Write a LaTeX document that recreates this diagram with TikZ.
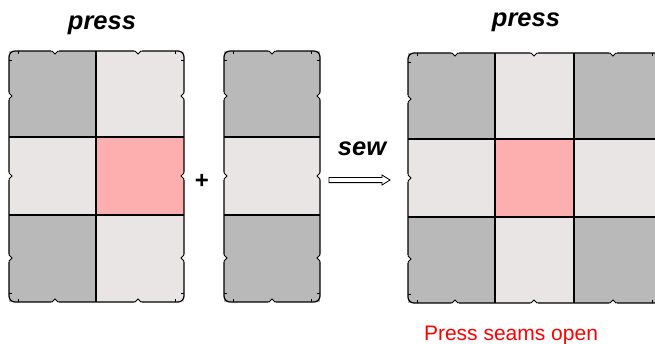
\documentclass[tikz,border=0pt]{standalone}
\usepackage{fontspec}
\setmainfont{Liberation Sans}
\definecolor{darkcell}{HTML}{B9B9B9}
\definecolor{lightcell}{HTML}{E9E5E5}
\definecolor{pinkcell}{HTML}{FDAFAF}
\definecolor{notered}{HTML}{FF0000}
\tikzset{
  seam/.style={line width=1.2pt, black},
  edge/.style={line width=1.2pt, black},
  title/.style={font=\fontsize{25.5}{30}\selectfont\bfseries\itshape, inner sep=0pt, anchor=base},
}
% cell: x0 y0 x1 y1 colour
\newcommand\cellbox[5]{\fill[#5] (#1,#2) rectangle (#3,#4);}
% notch on horizontal edge: x, y, dir (+1 inward downwards, -1 inward upwards)
\newcommand\hnotch[3]{%
  \fill[white] ({#1-4},{#2-(#3)}) -- ({#1-3},#2) -- (#1,{#2+3*(#3)}) -- ({#1+3},#2) -- ({#1+4},{#2-(#3)}) -- cycle;
  \draw[edge,line width=0.9pt] ({#1-3},#2) -- (#1,{#2+3*(#3)}) -- ({#1+3},#2);}
% notch on vertical edge: x, y, dir (+1 inward to the right, -1 inward to the left)
\newcommand\vnotch[3]{%
  \fill[white] ({#1-(#3)},{#2-4}) -- (#1,{#2-3}) -- ({#1+3*(#3)},#2) -- (#1,{#2+3}) -- ({#1-(#3)},{#2+4}) -- cycle;
  \draw[edge,line width=0.9pt] (#1,{#2-3}) -- ({#1+3*(#3)},#2) -- (#1,{#2+3});}
% frame: x0 y0 x1 y1
\newcommand\blockframe[4]{%
  \draw[edge, rounded corners=6pt] (#1,#2) rectangle (#3,#4);
  \draw[line width=0.9pt] ({#1+9},#2) -- ({#1+9},{#2+3}) ({#1},{#2+9}) -- ({#1+3},{#2+9})
    ({#3-9},#2) -- ({#3-9},{#2+3}) ({#3},{#2+9}) -- ({#3-3},{#2+9})
    ({#1+9},#4) -- ({#1+9},{#4-3}) ({#1},{#4-9}) -- ({#1+3},{#4-9})
    ({#3-9},#4) -- ({#3-9},{#4-3}) ({#3},{#4-9}) -- ({#3-3},{#4-9});}
\begin{document}
\begin{tikzpicture}[x=1pt,y=-1pt]
\useasboundingbox (0,0) rectangle (655,343);
% ---------- left block ----------
\cellbox{9}{51}{96}{137}{darkcell}
\cellbox{96}{51}{184}{137}{lightcell}
\cellbox{9}{137}{96}{215}{lightcell}
\cellbox{96}{137}{184}{215}{pinkcell}
\cellbox{9}{215}{96}{302}{darkcell}
\cellbox{96}{215}{184}{302}{lightcell}
\draw[seam] (96,51) -- (96,302);
\draw[seam] (9,137) -- (184,137);
\draw[seam] (9,215) -- (184,215);
\blockframe{9}{51}{184}{302}
\hnotch{55}{51}{1}\hnotch{138}{51}{1}
\hnotch{55}{302}{-1}\hnotch{138}{302}{-1}
\vnotch{9}{96}{1}\vnotch{9}{176}{1}\vnotch{9}{258}{1}
\vnotch{184}{96}{-1}\vnotch{184}{176}{-1}\vnotch{184}{258}{-1}
% ---------- middle block ----------
\cellbox{224}{51}{320}{137}{darkcell}
\cellbox{224}{137}{320}{215}{lightcell}
\cellbox{224}{215}{320}{302}{darkcell}
\draw[seam] (224,137) -- (320,137);
\draw[seam] (224,215) -- (320,215);
\blockframe{224}{51}{320}{302}
\hnotch{272}{51}{1}\hnotch{272}{302}{-1}
\vnotch{224}{96}{1}\vnotch{224}{176}{1}\vnotch{224}{258}{1}
\vnotch{320}{96}{-1}\vnotch{320}{176}{-1}\vnotch{320}{258}{-1}
% ---------- right block ----------
\begin{scope}
\clip (0,0) rectangle (655,343);
\cellbox{408}{53}{495}{139}{darkcell}
\cellbox{495}{53}{574}{139}{lightcell}
\cellbox{574}{53}{661}{139}{darkcell}
\cellbox{408}{139}{495}{217}{lightcell}
\cellbox{495}{139}{574}{217}{pinkcell}
\cellbox{574}{139}{661}{217}{lightcell}
\cellbox{408}{217}{495}{303}{darkcell}
\cellbox{495}{217}{574}{303}{lightcell}
\cellbox{574}{217}{661}{303}{darkcell}
\draw[seam] (495,53) -- (495,303);
\draw[seam] (574,53) -- (574,303);
\draw[seam] (408,139) -- (661,139);
\draw[seam] (408,217) -- (661,217);
\blockframe{408}{53}{661}{303}
\hnotch{455}{53}{1}\hnotch{534}{53}{1}\hnotch{613}{53}{1}
\hnotch{455}{303}{-1}\hnotch{534}{303}{-1}\hnotch{613}{303}{-1}
\vnotch{408}{99}{1}\vnotch{408}{178}{1}\vnotch{408}{259}{1}
\end{scope}
% ---------- texts ----------
\node[title] (pressL) at (102,29) {press};
\node[title] (pressR) at (526,26) {press};
\node[title] (sew) at (362,155) {sew};
\node[font=\fontsize{24}{28}\selectfont\bfseries, inner sep=0pt, anchor=base] (plus) at (202,188.5) {+};
\node[font=\fontsize{21}{25}\selectfont, text=notered, inner sep=0pt, anchor=base] (note) at (511,340) {Press seams open};
% ---------- arrow ----------
\coordinate (arrS) at (329,180);
\coordinate (arrE) at (390,180);
\draw[line width=0.8pt, fill=white] (arrS) ++(0,-2.6) -- ++(53,0) -- ++(0,-2.4) -- (arrE) -- ++(-8,5) -- ++(0,-2.4) -- ++(-53,0) -- cycle;
\end{tikzpicture}
\end{document}
